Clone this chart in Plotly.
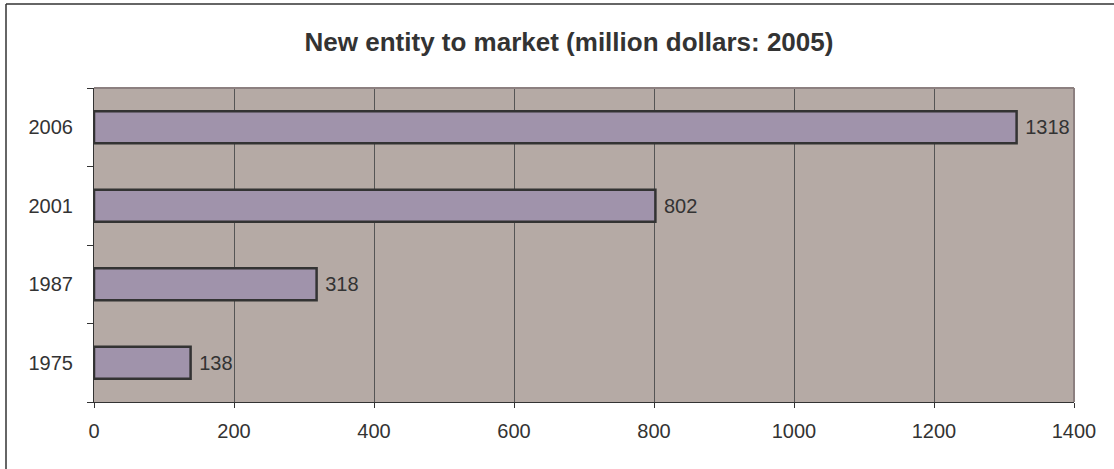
import plotly.graph_objects as go

years = ["1975", "1987", "2001", "2006"]
values = [138, 318, 802, 1318]
x_ticks = [0, 200, 400, 600, 800, 1000, 1200, 1400]
title_text = "New entity to market (million dollars: 2005)"

FONT = "Liberation Sans, Arial"

fig = go.Figure()
fig.add_trace(go.Bar(
    y=years, x=values, orientation="h",
    width=0.41,
    marker=dict(color="#A093AB", line=dict(color="#333333", width=2.5)),
    text=[str(v) for v in values], textposition="outside",
    texttemplate=" %{text}",
    textfont=dict(family=FONT, size=20, color="#333333"),
    cliponaxis=False,
))

W, H = 1114, 469
l, r, t, b = 94, 40, 88, 67
pw, ph = W - l - r, H - t - b

def px(xp):
    return (xp - l) / pw

def py(yp):
    return (H - b - yp) / ph

fig.update_layout(
    width=W, height=H,
    margin=dict(l=l, r=r, t=t, b=b),
    paper_bgcolor="white",
    plot_bgcolor="#B5AAA5",
    showlegend=False,
    title=dict(text="<b>" + title_text + "</b>", x=px(569), xref="paper", xanchor="center",
               y=1 - 42 / H, yanchor="middle",
               font=dict(family=FONT, size=26, color="#333333")),
    xaxis=dict(range=[0, 1400], tickvals=x_ticks, showgrid=True, gridcolor="#555555", gridwidth=1,
               ticks="outside", ticklen=5, tickcolor="#333333",
               showline=True, linecolor="#333333", linewidth=1,
               tickfont=dict(family=FONT, size=20, color="#333333"),
               ticklabelstandoff=6,
               zeroline=False, fixedrange=True),
    yaxis=dict(categoryorder="array", categoryarray=years, type="category",
               ticks="outside", tickson="boundaries", ticklen=6, tickcolor="#333333",
               showline=True, linecolor="#333333", linewidth=1, showgrid=False,
               tickfont=dict(family=FONT, size=20, color="#333333"),
               ticklabelstandoff=16, fixedrange=True),
    shapes=[
        dict(type="line", xref="paper", yref="paper", x0=0, x1=1, y0=1, y1=1,
             line=dict(color="#8C8080", width=2)),
        dict(type="line", xref="paper", yref="paper", x0=1, x1=1, y0=0, y1=1,
             line=dict(color="#8C8080", width=2)),
        dict(type="line", xref="paper", yref="paper", x0=px(6), x1=px(6), y0=py(4), y1=py(480),
             line=dict(color="#333333", width=1.5)),
        dict(type="line", xref="paper", yref="paper", x0=px(6), x1=px(1130), y0=py(4), y1=py(4),
             line=dict(color="#333333", width=1.5)),
    ],
)

fig.write_html("out.html", config={"displayModeBar": False},
               post_script="document.body.style.margin='0';document.body.style.overflow='hidden';")
